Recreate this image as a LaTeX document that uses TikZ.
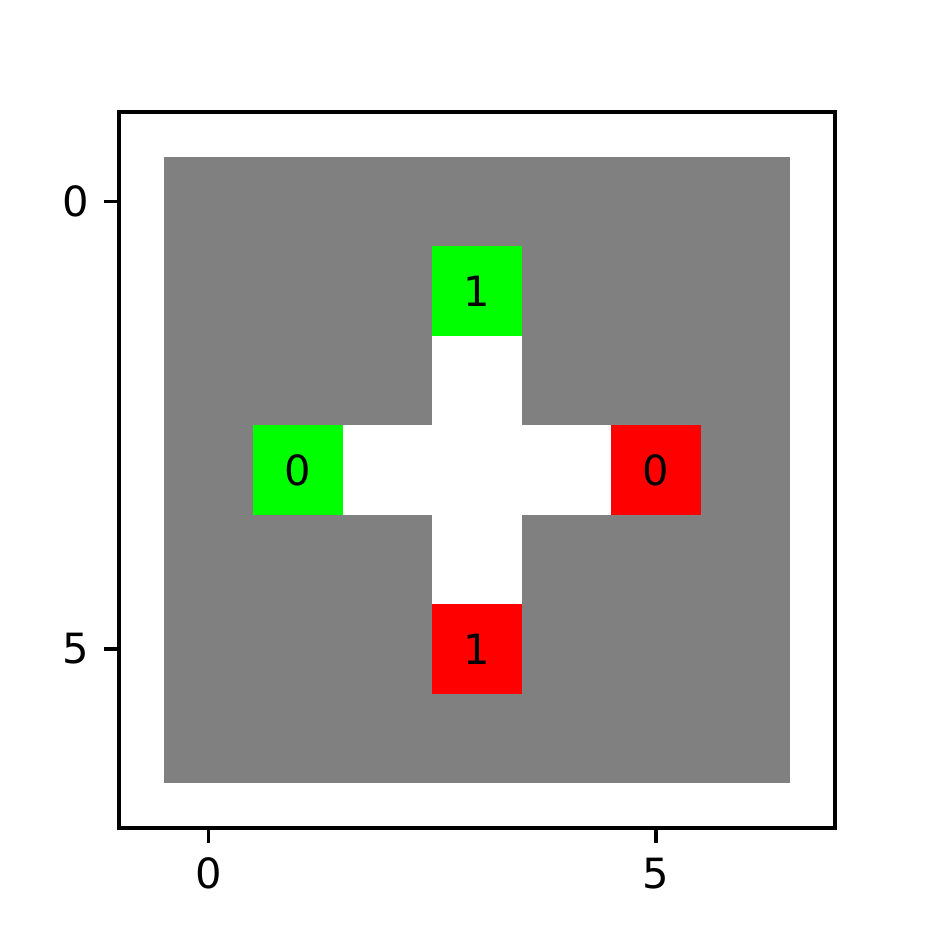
\documentclass[tikz,border=0pt]{standalone}
\usepackage{fontspec}
\setmainfont{DejaVu Sans}
\definecolor{cgray}{RGB}{128,128,128}
\definecolor{cgreen}{RGB}{0,255,0}
\definecolor{cred}{RGB}{255,0,0}
\begin{document}
\begin{tikzpicture}[x=0.24pt,y=-0.24pt,
  lbl/.style={inner sep=0pt,font=\fontsize{10}{12}\selectfont,text=black},
  spine/.style={line width=0.8pt,draw=black},
  tick/.style={line width=0.8pt,draw=black}]
\useasboundingbox (0,0) rectangle (930,930);
\fill[white] (0,0) rectangle (930,930);
% image cells (px coordinates, cell size 89.5)
\fill[cgray] (163.75,156.75) rectangle (790.25,783.25);
% white path
\fill[white] (432.25,335.75) rectangle (521.75,604.25);
\fill[white] (342.75,425.25) rectangle (611.25,514.75);
% coloured cells
\fill[cgreen] (432.25,246.25) rectangle (521.75,335.75);
\fill[cgreen] (253.25,425.25) rectangle (342.75,514.75);
\fill[cred] (611.25,425.25) rectangle (700.75,514.75);
\fill[cred] (432.25,604.25) rectangle (521.75,693.75);
\node[lbl] (g1) at (477,291) {1};
\node[lbl] (g0) at (298,470) {0};
\node[lbl] (r0) at (656,470) {0};
\node[lbl] (r1) at (477,649) {1};
% axes
\draw[spine] (119,112) rectangle (835,828);
\draw[tick] (208.5,828) -- (208.5,842.6);
\draw[tick] (656,828) -- (656,842.6);
\draw[tick] (119,201.5) -- (104.4,201.5);
\draw[tick] (119,649) -- (104.4,649);
\node[lbl,anchor=north] (x0) at (208.5,857.2) {0};
\node[lbl,anchor=north] (x5) at (656,857.2) {5};
\node[lbl,anchor=east] (y0) at (89.8,201.5) {0};
\node[lbl,anchor=east] (y5) at (89.8,649) {5};
\end{tikzpicture}
\end{document}
